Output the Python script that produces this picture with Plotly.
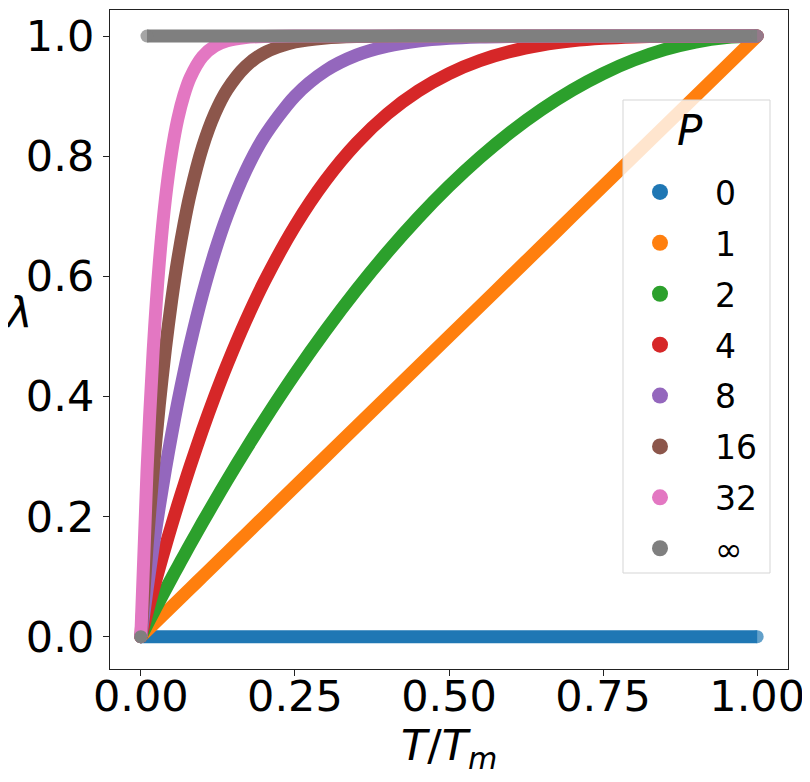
import plotly.graph_objects as go

# T/Tm sample positions
T_OVER_TM = [0, 0.01, 0.02, 0.03, 0.04, 0.05, 0.06, 0.07, 0.08, 0.10, 0.12, 0.14,
             0.17, 0.20, 0.25, 0.30, 0.35, 0.40, 0.45, 0.50, 0.55, 0.60, 0.65, 0.70,
             0.75, 0.80, 0.85, 0.90, 0.95, 1.00]

P_LABELS = ["0", "1", "2", "4", "8", "16", "32", "∞"]
COLORS = ["#1f77b4", "#ff7f0e", "#2ca02c", "#d62728", "#9467bd", "#8c564b", "#e377c2", "#7f7f7f"]

LAM_P0 = [0] * 30
LAM_P1 = [0, 0.01, 0.02, 0.03, 0.04, 0.05, 0.06, 0.07, 0.08, 0.10, 0.12, 0.14,
          0.17, 0.20, 0.25, 0.30, 0.35, 0.40, 0.45, 0.50, 0.55, 0.60, 0.65, 0.70,
          0.75, 0.80, 0.85, 0.90, 0.95, 1.00]
LAM_P2 = [0, 0.0199, 0.0396, 0.0591, 0.0784, 0.0975, 0.1164, 0.1351, 0.1536, 0.19, 0.2256, 0.2604,
          0.3111, 0.36, 0.4375, 0.51, 0.5775, 0.64, 0.6975, 0.75, 0.7975, 0.84, 0.8775, 0.91,
          0.9375, 0.96, 0.9775, 0.99, 0.9975, 1.0]
LAM_P4 = [0, 0.0394, 0.0776, 0.1147, 0.1507, 0.1855, 0.2193, 0.2519, 0.2836, 0.3439, 0.4003, 0.4530,
          0.5254, 0.5904, 0.6836, 0.7599, 0.8215, 0.8704, 0.9085, 0.9375, 0.9590, 0.9744, 0.9850, 0.9919,
          0.9961, 0.9984, 0.9995, 0.9999, 1.0, 1.0]
LAM_P8 = [0, 0.0773, 0.1492, 0.2163, 0.2787, 0.3366, 0.3905, 0.4403, 0.4868, 0.5695, 0.6404, 0.7008,
          0.7748, 0.8322, 0.8999, 0.9424, 0.9681, 0.9832, 0.9916, 0.9961, 0.9983, 0.9993, 0.9998, 0.9999,
          1.0, 1.0, 1.0, 1.0, 1.0, 1.0]
LAM_P16 = [0, 0.1486, 0.2761, 0.3858, 0.4797, 0.5599, 0.6285, 0.6867, 0.7366, 0.8147, 0.8707, 0.9105,
           0.9493, 0.9718, 0.9900, 0.9967, 0.9990, 0.9997, 0.9999, 1.0, 1.0, 1.0, 1.0, 1.0,
           1.0, 1.0, 1.0, 1.0, 1.0, 1.0]
LAM_P32 = [0, 0.2751, 0.4760, 0.6228, 0.7293, 0.8063, 0.8620, 0.9018, 0.9306, 0.9657, 0.9833, 0.9920,
           0.9974, 0.9992, 0.9999, 1.0, 1.0, 1.0, 1.0, 1.0, 1.0, 1.0, 1.0, 1.0,
           1.0, 1.0, 1.0, 1.0, 1.0, 1.0]
LAM_PINF = [0] + [1.0] * 29

SERIES = [LAM_P0, LAM_P1, LAM_P2, LAM_P4, LAM_P8, LAM_P16, LAM_P32, LAM_PINF]

X_TICKS = [0, 0.25, 0.5, 0.75, 1.0]
X_TICK_TEXT = ["0.00", "0.25", "0.50", "0.75", "1.00"]
Y_TICKS = [0, 0.2, 0.4, 0.6, 0.8, 1.0]
Y_TICK_TEXT = ["0.0", "0.2", "0.4", "0.6", "0.8", "1.0"]

FONT = "DejaVu Sans"
W = 13

# figure / plot-area geometry (the page adds an 8px body margin)
FIG_W, FIG_H = 802, 774
L, R, T, B = 102, 22, 2, 113
PL, PR, PT, PB = 110, 788, 10, 669          # plot area in screen px


def px(xs):
    return (xs - PL) / (PR - PL)


def py(ys):
    return (PB - ys) / (PB - PT)


def end_sizes(n):
    return [W] + [0] * (n - 2) + [W]


fig = go.Figure()
for lab, col, ys in zip(P_LABELS, COLORS, SERIES):
    if lab == "∞":
        # isolated point at the origin, then the flat line
        fig.add_trace(go.Scatter(x=T_OVER_TM[:1], y=ys[:1], mode="markers",
                                 marker=dict(size=W, color=col, line=dict(width=0)),
                                 showlegend=False, hoverinfo="skip"))
        xs, yv = T_OVER_TM[1:], ys[1:]
    else:
        xs, yv = T_OVER_TM, ys
    fig.add_trace(go.Scatter(x=xs, y=yv, mode="lines+markers",
                             line=dict(color=col, width=W, shape="spline", smoothing=0.8),
                             marker=dict(size=end_sizes(len(xs)), color=col, line=dict(width=0)),
                             showlegend=False, name=lab))

# legend entries (dots)
for lab, col in zip(P_LABELS, COLORS):
    fig.add_trace(go.Scatter(x=[None], y=[None], mode="markers", name=lab,
                             legendgroup=lab,
                             marker=dict(size=16, color=col, line=dict(width=0))))

fig.update_layout(
    width=FIG_W, height=FIG_H,
    margin=dict(l=L, r=R, t=T, b=B),
    plot_bgcolor="white", paper_bgcolor="white",
    font=dict(family=FONT, size=43, color="black"),
    showlegend=True,
    legend=dict(
        x=px(605), xanchor="left", y=py(164), yanchor="top",
        bgcolor="rgba(0,0,0,0)", borderwidth=0,
        font=dict(family=FONT, size=33, color="black"),
        traceorder="grouped", tracegroupgap=5, itemwidth=100,
    ),
    xaxis=dict(range=[-0.05, 1.05], tickvals=X_TICKS, ticktext=X_TICK_TEXT,
               showgrid=False, zeroline=False, showline=True, mirror=True,
               linecolor="#222", linewidth=1.3, ticks="outside", ticklen=6,
               tickwidth=1.3, tickcolor="#222", ticklabelstandoff=-17,
               ticklabeloverflow="allow"),
    yaxis=dict(range=[-0.0538, 1.0433], tickvals=Y_TICKS, ticktext=Y_TICK_TEXT,
               showgrid=False, zeroline=False, showline=True, mirror=True,
               linecolor="#222", linewidth=1.3, ticks="outside", ticklen=6,
               tickwidth=1.3, tickcolor="#222"),
    shapes=[dict(type="rect", xref="paper", yref="paper",
                 x0=px(623), x1=px(770), y0=py(573), y1=py(100),
                 fillcolor="rgba(255,255,255,0.8)", line=dict(color="#d5d5d5", width=1),
                 layer="above")],
    annotations=[
        dict(text="<i>λ</i>", xref="paper", yref="paper", x=px(18), y=py(313),
             xanchor="center", yanchor="middle", showarrow=False,
             font=dict(family=FONT, size=43)),
        dict(text="<i>T</i>/<i>T</i><sub><i>m</i></sub>", xref="paper", yref="paper",
             x=0.5, y=py(748), xanchor="center", yanchor="middle", showarrow=False,
             font=dict(family=FONT, size=43)),
        dict(text="<i>P</i>", xref="paper", yref="paper", x=px(690), y=py(130),
             xanchor="center", yanchor="middle", showarrow=False,
             font=dict(family=FONT, size=42)),
    ],
)

fig.write_html("out.html")
